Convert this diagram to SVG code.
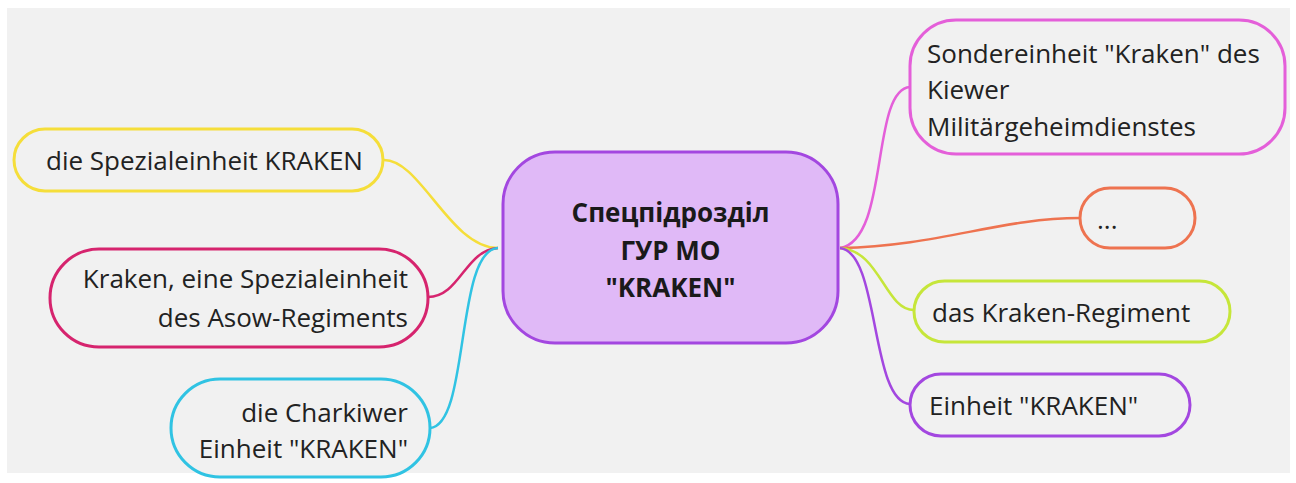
<svg xmlns="http://www.w3.org/2000/svg" width="1296" height="483" viewBox="0 0 1296 483">
<style>
.t{font-family:"Open Sans","Noto Sans","Liberation Sans",sans-serif;font-size:26px;fill:#222}
.b{font-weight:bold;font-size:26px;fill:#1a1a1a}
.n{fill:#f1f1f1;stroke-width:3}
.c{fill:none;stroke-width:2.5}
</style>
<rect x="0" y="0" width="1296" height="483" fill="#ffffff"/>
<rect x="7" y="8" width="1283" height="465" fill="#f1f1f1"/>
<g id="connectors">
<path class="c" stroke="#f5de3a" d="M383,160 C420,158 450,248 498,248"/>
<path class="c" stroke="#d6246e" d="M428,297 C460,297 465,250 498,248"/>
<path class="c" stroke="#30c3e3" d="M430,428 C470,425 455,250 498,248"/>
<path class="c" stroke="#e45fd9" d="M840,248 C890,240 870,90 910,87"/>
<path class="c" stroke="#ee7350" d="M840,248 C940,246 1000,218 1080,218"/>
<path class="c" stroke="#c6e63a" d="M840,248 C880,250 885,310 914,310"/>
<path class="c" stroke="#a347e0" d="M840,248 C880,252 870,402 910,404"/>
</g>
<g id="center">
<rect x="503" y="152" width="335" height="191" rx="52" fill="#e0b9f7" stroke="#a347e0" stroke-width="3"/>
<text class="t b" text-anchor="middle" x="670.5" y="222">Спецпідрозділ</text>
<text class="t b" text-anchor="middle" x="670.5" y="260">ГУР МО</text>
<text class="t b" text-anchor="middle" x="670.5" y="297">"KRAKEN"</text>
</g>
<g id="n-yellow">
<rect class="n" x="14" y="129" width="369" height="62" rx="31" stroke="#f5de3a"/>
<text class="t" x="46" y="170">die Spezialeinheit KRAKEN</text>
</g>
<g id="n-pink">
<rect class="n" x="50" y="249" width="378" height="98" rx="49" stroke="#d6246e"/>
<text class="t" text-anchor="end" x="408" y="288">Kraken, eine Spezialeinheit</text>
<text class="t" text-anchor="end" x="408" y="327">des Asow-Regiments</text>
</g>
<g id="n-cyan">
<rect class="n" x="171" y="379" width="259" height="98" rx="49" stroke="#30c3e3"/>
<text class="t" text-anchor="end" x="408" y="422">die Charkiwer</text>
<text class="t" text-anchor="end" x="408" y="458">Einheit "KRAKEN"</text>
</g>
<g id="n-magenta">
<rect class="n" x="910" y="20" width="375" height="134" rx="46" stroke="#e45fd9"/>
<text class="t" x="927" y="63">Sondereinheit "Kraken" des</text>
<text class="t" x="927" y="99">Kiewer</text>
<text class="t" x="927" y="136">Militärgeheimdienstes</text>
</g>
<g id="n-orange">
<rect class="n" x="1080" y="188" width="115" height="60" rx="30" stroke="#ee7350"/>
<text class="t" x="1097" y="229">...</text>
</g>
<g id="n-lime">
<rect class="n" x="914" y="281" width="316" height="61" rx="30.5" stroke="#c6e63a"/>
<text class="t" x="932" y="322">das Kraken-Regiment</text>
</g>
<g id="n-purple">
<rect class="n" x="910" y="374" width="280" height="62" rx="31" stroke="#a347e0"/>
<text class="t" x="929" y="415">Einheit "KRAKEN"</text>
</g>
</svg>
